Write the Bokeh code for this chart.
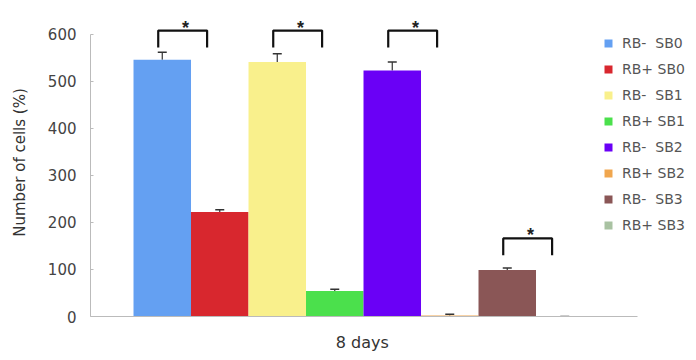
from bokeh.plotting import figure
from bokeh.models import ColumnDataSource, Range1d, Whisker, TeeHead, Legend, LegendItem, FixedTicker
from bokeh.embed import file_html
from bokeh.resources import INLINE
from bokeh.core.properties import value

# ---- data ----
labels = ["RB-\u00a0 SB0", "RB+ SB0", "RB-\u00a0 SB1", "RB+ SB1",
          "RB-\u00a0 SB2", "RB+ SB2", "RB-\u00a0 SB3", "RB+ SB3"]
values = [546, 222, 541, 54, 523, 2, 99, 0]
errors = [16, 5, 18, 4, 18, 3, 4, 0]
colors = ["#64A0F2", "#D8272E", "#F9F08C", "#4BE04C",
          "#6A00F6", "#F0A64E", "#8A5656", "#A9C2A2"]
sig_groups = [0, 2, 4, 6]          # bar index at left end of bracket
sig_tops = [608, 608, 608, 166]    # bracket top value
sig_drop = 36                      # bracket leg length (value units)
y_ticks = [0, 100, 200, 300, 400, 500, 600]
x_label = "8 days"
x_label_pos = 3.48                 # category-axis position of the group label
y_label = "Number of cells (%)"

FONT = "DejaVu Sans"

xs = list(range(len(values)))
src = ColumnDataSource(dict(x=xs, top=values, color=colors, label=labels,
                            upper=[v + e for v, e in zip(values, errors)],
                            lower=values))

p = figure(width=696, height=354, output_backend="svg", toolbar_location=None,
           x_range=Range1d(-1.248, 9.152), y_range=Range1d(0, 655),
           min_border_left=90, min_border_right=8, min_border_top=8,
           min_border_bottom=38)
p.outline_line_color = None
p.grid.visible = False
p.background_fill_color = "white"

bars = p.vbar(x="x", top="top", width=1.0, color="color", line_color=None, source=src)

wh = Whisker(base="x", upper="upper", lower="lower", source=src,
             line_color="#333333", line_width=1.2,
             upper_head=TeeHead(size=9, line_color="#333333", line_width=1.5),
             lower_head=None)
p.add_layout(wh)

# significance brackets
bx, by, sx, sy = [], [], [], []
for g, t in zip(sig_groups, sig_tops):
    x0, x1 = g - 0.07, g + 0.78
    bx.append([x0, x0, x1, x1])
    by.append([t - sig_drop, t, t, t - sig_drop])
    sx.append((x0 + x1) / 2 + 0.05)
    sy.append(t)
p.multi_line(bx, by, line_color="#111111", line_width=2.2)
p.text(x=sx, y=sy, text=["*"] * len(sx), text_align="center",
       text_baseline="alphabetic", text_font=value("Liberation Sans"), y_offset=-3,
       text_font_size="18px", text_font_style="bold", text_color="#222222")

# axes
ya = p.yaxis[0]
ya.ticker = FixedTicker(ticks=y_ticks)
ya.bounds = (0, 600)
ya.axis_line_color = "#BBBBBB"
ya.major_tick_in = 3
ya.major_tick_out = 0
ya.major_tick_line_color = "#BBBBBB"
ya.minor_tick_line_color = None
ya.major_label_text_font = FONT
ya.major_label_text_font_size = "15px"
ya.major_label_text_color = "#444444"
ya.major_label_standoff = 14
ya.axis_label = y_label
ya.axis_label_text_font = FONT
ya.axis_label_text_font_size = "15px"
ya.axis_label_text_font_style = "normal"
ya.axis_label_text_color = "#333333"
ya.axis_label_standoff = 16

xa = p.xaxis[0]
xa.ticker = FixedTicker(ticks=[x_label_pos])
xa.major_label_overrides = {x_label_pos: x_label}
xa.bounds = (-1.248, 8.265)
xa.axis_line_color = "#BBBBBB"
xa.major_tick_in = 0
xa.major_tick_out = 0
xa.major_tick_line_color = None
xa.minor_tick_line_color = None
xa.major_label_text_font = FONT
xa.major_label_text_font_size = "16px"
xa.major_label_text_color = "#333333"
xa.major_label_standoff = 16

items = [LegendItem(label=lab, renderers=[bars], index=i) for i, lab in enumerate(labels)]
leg = Legend(items=items, location=(513, 81), padding=0, margin=0,
             border_line_color=None, background_fill_alpha=0,
             glyph_width=10, glyph_height=10, label_height=21, spacing=5,
             label_standoff=9, label_text_font=FONT, label_text_font_size="14px",
             label_text_color="#555555")
p.add_layout(leg)

open("out.html", "w").write(file_html(p, INLINE))
